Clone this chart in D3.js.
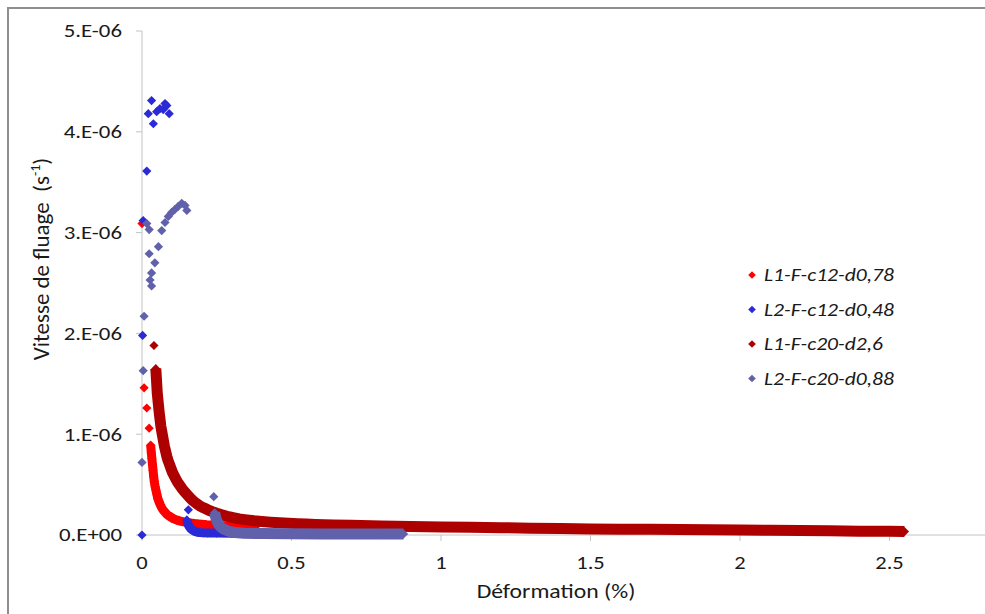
<!DOCTYPE html>
<html><head><meta charset="utf-8">
<script src="https://cdn.jsdelivr.net/npm/d3@7"></script>
<style>
body{margin:0;background:#fff}
svg{display:block}
text{font-family:Carlito,Lato,"Liberation Sans",sans-serif;fill:#1a1a1a;white-space:pre}
</style></head>
<body><svg id="chart" width="985" height="614"></svg>
<script>
// ---------- DATA (x = déformation in %, y = vitesse in units of 1e-6 s^-1) ----------
const seriesNames = ["L1-F-c12-d0,78","L2-F-c12-d0,48","L1-F-c20-d2,6","L2-F-c20-d0,88"];
const seriesColors = ["#ff0000","#2a2ad6","#ad0000","#6161ab"];

const xTicks = [0,0.5,1,1.5,2,2.5];
const xTickLabels = ["0","0.5","1","1.5","2","2.5"];
const yTicks = [0,1,2,3,4,5];
const yTickLabels = ["0.E+00","1.E-06","2.E-06","3.E-06","4.E-06","5.E-06"];

// L1-F-c12-d0,78 : isolated points, then dense trail
const l1c12Points = [[0.000,3.09],[0.007,1.46],[0.016,1.26],[0.024,1.06],[0.029,0.89]];
const l1c12Trail = [[0.029,0.89],[0.031,0.82],[0.033,0.76],[0.035,0.70],[0.037,0.64],[0.039,0.58],[0.041,0.53],
  [0.044,0.48],[0.047,0.44],[0.050,0.40],[0.053,0.36],[0.057,0.33],[0.061,0.30],[0.066,0.27],[0.071,0.245],
  [0.077,0.225],[0.083,0.205],[0.090,0.19],[0.098,0.175],[0.106,0.16],[0.115,0.15],[0.125,0.14],[0.136,0.132],
  [0.148,0.125],[0.160,0.12],[0.173,0.115],[0.187,0.11],[0.200,0.106],[0.215,0.102],[0.230,0.099],[0.245,0.096],
  [0.260,0.094],[0.280,0.092],[0.300,0.09],[0.320,0.088],[0.340,0.086],[0.360,0.084],[0.380,0.082]];

// L2-F-c12-d0,48
const l2c12Points = [[0.000,0.00],[0.002,1.98],[0.004,3.12],[0.016,3.61],[0.021,4.18],[0.032,4.31],[0.038,4.08],
  [0.049,4.20],[0.060,4.23],[0.071,4.22],[0.077,4.28],[0.083,4.26],[0.091,4.18],[0.155,0.25]];
const l2c12Trail = [[0.150,0.15],[0.153,0.115],[0.157,0.088],[0.162,0.066],[0.168,0.050],[0.175,0.038],[0.183,0.030],
  [0.192,0.025],[0.205,0.022],[0.220,0.020],[0.250,0.019],[0.300,0.018],[0.350,0.017],[0.400,0.016],[0.450,0.016]];

// L1-F-c20-d2,6
const l1c20Points = [[0.040,1.88]];
const l1c20Trail = [[0.046,1.65],[0.047,1.61],[0.048,1.56],[0.049,1.51],[0.050,1.46],[0.051,1.41],[0.053,1.35],
  [0.055,1.29],[0.057,1.23],[0.059,1.18],[0.061,1.13],[0.063,1.08],[0.066,1.03],[0.069,0.98],[0.072,0.93],
  [0.075,0.88],[0.079,0.83],[0.083,0.78],[0.087,0.74],[0.092,0.70],[0.097,0.66],[0.102,0.62],[0.108,0.585],
  [0.114,0.55],[0.120,0.52],[0.127,0.49],[0.134,0.46],[0.142,0.43],[0.151,0.40],[0.160,0.37],[0.170,0.34],
  [0.181,0.315],[0.193,0.29],[0.206,0.27],[0.220,0.25],[0.235,0.232],[0.250,0.216],[0.267,0.20],[0.285,0.186],
  [0.305,0.172],[0.325,0.16],[0.350,0.15],[0.375,0.141],[0.400,0.134],[0.430,0.127],[0.460,0.121],[0.490,0.116],
  [0.520,0.112],[0.550,0.108],[0.580,0.105],[0.610,0.102],[0.640,0.100],[0.700,0.096],[0.800,0.090],[0.900,0.085],
  [1.000,0.080],[1.100,0.076],[1.200,0.072],[1.300,0.068],[1.400,0.064],[1.500,0.060],[1.600,0.058],[1.700,0.056],
  [1.800,0.054],[1.900,0.052],[2.000,0.050],[2.100,0.047],[2.200,0.044],[2.300,0.041],[2.400,0.038],[2.500,0.036],
  [2.550,0.034]];

// L2-F-c20-d0,88
const l2c20Points = [[0.000,0.72],[0.004,1.63],[0.007,2.17],[0.016,3.09],[0.024,3.03],[0.024,2.79],[0.055,2.86],
  [0.043,2.70],[0.032,2.60],[0.027,2.53],[0.032,2.47],[0.066,3.02],[0.077,3.10],[0.088,3.16],[0.099,3.20],
  [0.110,3.23],[0.121,3.26],[0.133,3.29],[0.144,3.27],[0.150,3.22],[0.240,0.38]];
const l2c20Trail = [[0.243,0.22],[0.247,0.17],[0.252,0.13],[0.258,0.10],[0.265,0.075],[0.275,0.055],[0.290,0.037],
  [0.310,0.025],[0.340,0.018],[0.400,0.014],[0.500,0.012],[0.600,0.011],[0.700,0.010],[0.800,0.010],[0.875,0.010]];

const seriesPoints = [l1c12Points,l2c12Points,l1c20Points,l2c20Points];
const seriesTrails = [l1c12Trail,l2c12Trail,l1c20Trail,l2c20Trail];

// ---------- DRAW ----------
const svg = d3.select("#chart");
const x = d3.scaleLinear().domain([0,3]).range([142,1039]);
const y = d3.scaleLinear().domain([0,5]).range([535,31]);

// horizontally widened text helper (the reference text is drawn wide)
function wideText(px, py, sx, size, str, anchor){
  return svg.append("text").attr("transform",`translate(${px},${py}) scale(${sx},1)`)
    .attr("text-anchor",anchor).attr("font-size",size).text(str);
}

// chart area border (cropped on the right and bottom)
svg.append("rect").attr("x",8).attr("y",8).attr("width",1100).attr("height",700)
  .attr("fill","none").attr("stroke","#8e8e8e").attr("stroke-width",2);

// axes
const axisColor = "#c4c4c4";
svg.append("line").attr("x1",x(0)).attr("x2",985).attr("y1",y(0)).attr("y2",y(0)).attr("stroke",axisColor);
svg.append("line").attr("x1",x(0)).attr("x2",x(0)).attr("y1",y(5)).attr("y2",y(0)).attr("stroke",axisColor);
xTicks.forEach((t,i)=>{
  svg.append("line").attr("x1",x(t)).attr("x2",x(t)).attr("y1",y(0)).attr("y2",y(0)+6).attr("stroke",axisColor);
  wideText(x(t), 569, 1.25, 18, xTickLabels[i], "middle");
});
yTicks.forEach((t,i)=>{
  svg.append("line").attr("x1",x(0)-6).attr("x2",x(0)).attr("y1",y(t)).attr("y2",y(t)).attr("stroke",axisColor);
  wideText(122, y(t)+6.3, 1.27, 18, yTickLabels[i], "end");
});

// axis titles
wideText(556, 598, 1.13, 21, "Déformation (%)", "middle");
const yt = svg.append("text").attr("transform","translate(49,259) rotate(-90)")
  .attr("text-anchor","middle").attr("font-size",23);
yt.append("tspan").text("Vitesse de fluage  (s");
yt.append("tspan").attr("font-size",14).attr("dy",-9).text("-1");
yt.append("tspan").attr("dy",9).text(")");

// marks
const diamond = r => `M0,${-r}L${r},0L0,${r}L${-r},0Z`;
const trailWidths = [9,9,11,11];
const line = d3.line().x(d=>x(d[0])).y(d=>y(d[1]));
seriesNames.forEach((name,i)=>{
  const g = svg.append("g");
  g.append("path").attr("d",line(seriesTrails[i])).attr("fill","none")
    .attr("stroke",seriesColors[i]).attr("stroke-width",trailWidths[i])
    .attr("stroke-linejoin","round").attr("stroke-linecap","butt");
  g.selectAll("path.pt").data(seriesTrails[i].concat(seriesPoints[i])).join("path").attr("class","pt")
    .attr("d",diamond(4.6)).attr("transform",d=>`translate(${x(d[0])},${y(d[1])})`)
    .attr("fill",seriesColors[i]);
});

// legend
const legendY = [275,309.5,344,378.5];
seriesNames.forEach((name,i)=>{
  svg.append("path").attr("d",diamond(3.8)).attr("transform",`translate(752,${legendY[i]})`)
    .attr("fill",seriesColors[i]);
  wideText(764, legendY[i]+6.3, 1.2, 18, name, "start").attr("font-style","italic");
});
</script></body></html>
